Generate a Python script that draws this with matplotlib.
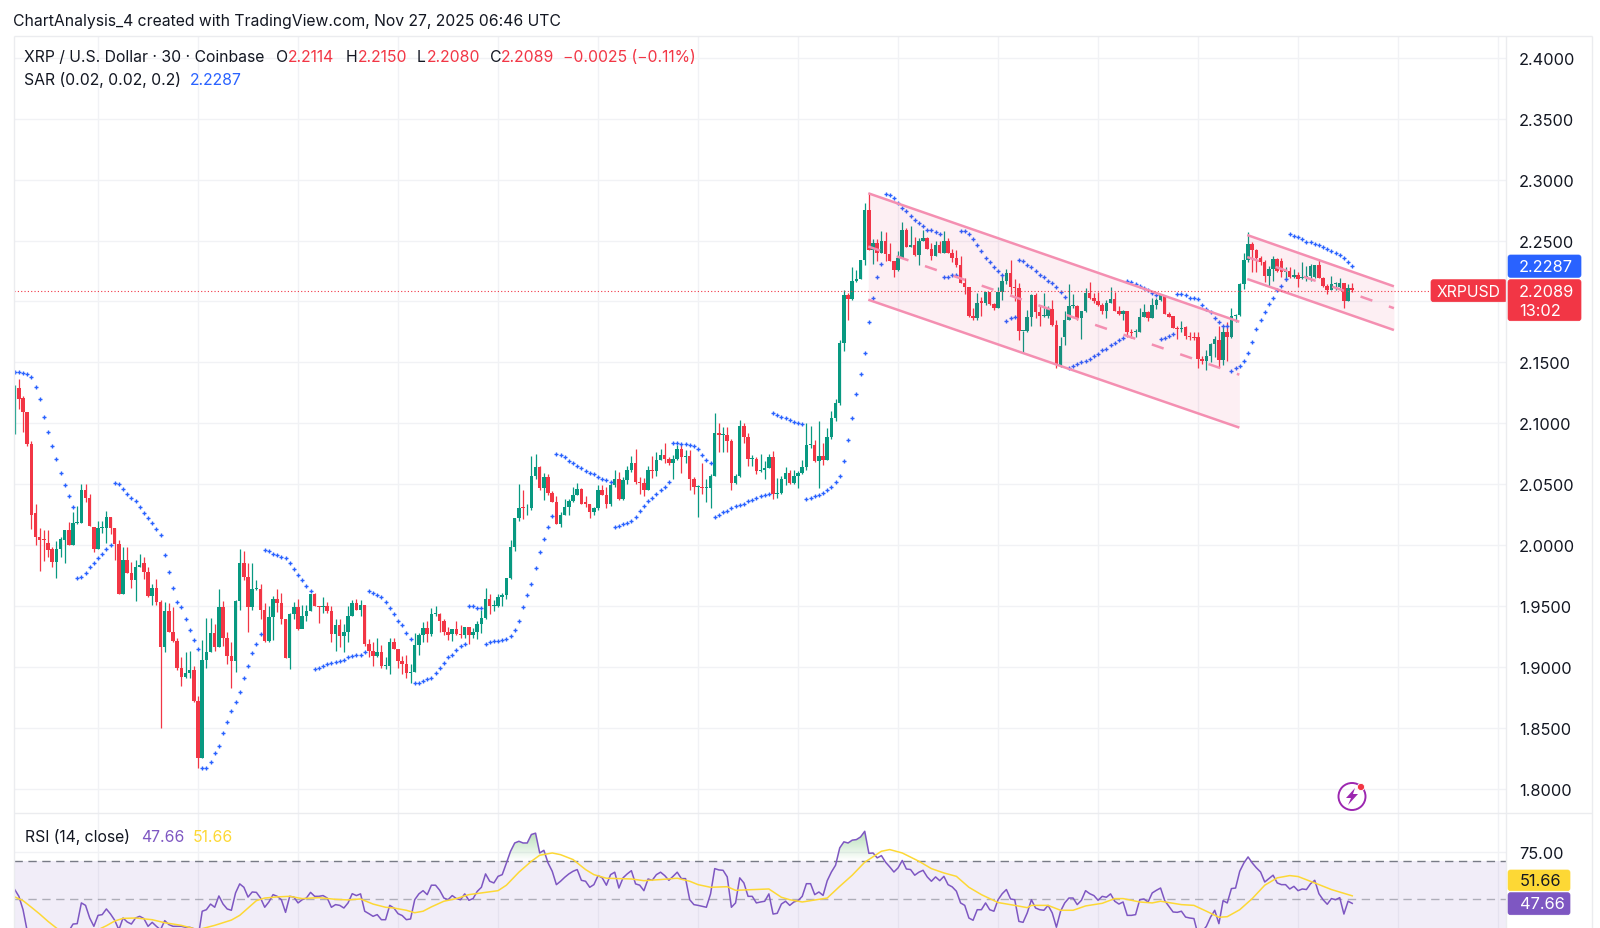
import numpy as np
import matplotlib
matplotlib.use('Agg')
import matplotlib.pyplot as plt
from matplotlib.patches import FancyBboxPatch, Circle, Polygon, PathPatch
from matplotlib.path import Path

plt.rcParams['font.family'] = ['Inter', 'DejaVu Sans']

# candle values in thousandths of a dollar
opens = [
    2120,2129,2121,2109,2083,2026,2007,2005,2002,1997, 1986,1997,2004,2012,2000,2018,2018,2045,2039,2015,
    1997,2014,2014,2023,2014,2001,1960,1988,1977,1971, 1982,1985,1978,1958,1965,1953,1916,1946,1929,1921,
    1899,1892,1895,1897,1872,1825,1906,1912,1928,1916, 1949,1924,1909,1905,1954,1985,1974,1949,1964,1964,
    1947,1921,1941,1956,1952,1939,1907,1943,1949,1931, 1942,1946,1960,1950,1949,1950,1946,1927,1934,1925,
    1929,1942,1952,1947,1951,1919,1913,1909,1912,1901, 1901,1920,1915,1905,1902,1895,1896,1918,1926,1932,
    1927,1943,1943,1938,1929,1927,1931,1927,1926,1933, 1926,1929,1935,1940,1956,1950,1950,1957,1959,1973,
    1998,2022,2031,2030,2030,2057,2064,2047,2056,2043, 2035,2017,2025,2031,2036,2041,2046,2035,2034,2027,
    2030,2045,2041,2034,2049,2054,2038,2053,2062,2067, 2052,2051,2045,2062,2061,2070,2074,2071,2067,2071,
    2079,2072,2073,2054,2048,2048,2047,2047,2057,2092, 2090,2090,2085,2051,2057,2098,2089,2071,2071,2061,
    2062,2063,2072,2042,2043,2054,2059,2051,2057,2059, 2064,2082,2082,2069,2073,2070,2089,2104,2117,2166,
    2205,2202,2217,2218,2234,2275,2242,2248,2240,2250, 2239,2233,2226,2236,2259,2245,2246,2238,2250,2252,
    2243,2237,2246,2240,2250,2240,2236,2230,2215,2212, 2188,2186,2200,2199,2208,2198,2195,2208,2217,2223,
    2212,2211,2176,2176,2187,2205,2191,2188,2188,2194, 2181,2148,2171,2185,2196,2196,2186,2192,2207,2203,
    2200,2197,2192,2199,2202,2192,2190,2192,2175,2175, 2175,2187,2191,2186,2197,2201,2205,2190,2188,2178,
    2177,2179,2172,2171,2171,2153,2151,2155,2165,2168, 2152,2175,2171,2188,2189,2214,2234,2247,2242,2236,
    2232,2221,2227,2235,2233,2224,2225,2220,2222,2219, 2219,2221,2220,2230,2219,2213,2209,2214,2212,2215,
    2200,2211]
closes = [
    2130,2120,2109,2083,2025,2007,2004,2004,1996,1986, 1997,2005,2012,2000,2018,2019,2045,2039,2016,1997,
    2014,2014,2023,2014,2001,1960,1988,1977,1971,1982, 1984,1978,1958,1965,1953,1916,1946,1929,1921,1899,
    1892,1895,1897,1872,1825,1906,1912,1928,1916,1949, 1924,1909,1905,1954,1985,1974,1949,1964,1964,1947,
    1921,1941,1956,1952,1939,1907,1943,1949,1931,1942, 1946,1960,1950,1949,1950,1946,1927,1934,1925,1929,
    1942,1952,1947,1951,1919,1913,1909,1912,1901,1901, 1920,1915,1905,1902,1895,1896,1918,1926,1932,1927,
    1943,1943,1938,1929,1926,1931,1927,1926,1933,1926, 1929,1935,1940,1956,1950,1950,1957,1959,1973,1998,
    2022,2030,2030,2030,2057,2064,2047,2056,2043,2035, 2017,2025,2031,2036,2041,2046,2034,2034,2027,2030,
    2045,2041,2034,2049,2054,2038,2053,2062,2067,2052, 2051,2045,2062,2061,2070,2074,2071,2067,2071,2079,
    2072,2073,2054,2048,2048,2047,2047,2057,2092,2090, 2090,2085,2051,2057,2098,2089,2071,2071,2061,2062,
    2063,2072,2042,2043,2054,2059,2051,2057,2059,2064, 2082,2082,2069,2073,2070,2089,2104,2117,2166,2205,
    2202,2217,2218,2234,2275,2242,2248,2240,2250,2239, 2233,2226,2236,2259,2245,2246,2238,2250,2252,2243,
    2237,2246,2240,2250,2240,2236,2230,2215,2212,2188, 2186,2199,2199,2208,2198,2195,2208,2217,2223,2212,
    2211,2176,2176,2187,2205,2191,2188,2188,2194,2181, 2148,2163,2185,2196,2196,2186,2192,2207,2203,2200,
    2197,2192,2199,2202,2192,2190,2192,2175,2174,2175, 2187,2191,2186,2197,2201,2205,2190,2187,2178,2177,
    2178,2172,2171,2170,2153,2151,2155,2165,2169,2152, 2175,2171,2188,2189,2214,2234,2247,2242,2236,2232,
    2221,2227,2235,2225,2224,2225,2220,2222,2218,2220, 2221,2229,2230,2219,2213,2209,2214,2214,2215,2200,
    2211,2209]
highs = [
    2131,2136,2122,2109,2085,2034,2014,2012,2012,1998, 2003,2007,2012,2019,2027,2032,2050,2050,2042,2015,
    2020,2020,2028,2023,2014,2004,1998,1998,1986,1988, 1993,1990,1982,1968,1972,1955,1953,1952,1949,1924,
    1908,1912,1913,1901,1876,1922,1940,1940,1935,1964, 1954,1929,1920,1955,1997,1995,1985,1985,1971,1968,
    1952,1950,1958,1964,1961,1939,1944,1953,1956,1951, 1951,1960,1961,1950,1957,1953,1950,1939,1939,1935,
    1950,1955,1956,1955,1951,1923,1920,1924,1918,1908, 1924,1924,1915,1909,1910,1902,1928,1928,1937,1938,
    1948,1950,1944,1939,1933,1931,1938,1934,1933,1933, 1932,1938,1947,1965,1960,1955,1960,1961,1973,2004,
    2022,2050,2045,2034,2073,2075,2065,2059,2058,2044, 2040,2027,2038,2038,2048,2051,2047,2040,2034,2031,
    2049,2049,2048,2051,2062,2060,2056,2065,2073,2079, 2056,2055,2065,2073,2076,2079,2084,2072,2074,2082,
    2083,2078,2078,2056,2049,2067,2054,2058,2108,2100, 2097,2097,2087,2058,2103,2100,2092,2074,2072,2075,
    2069,2075,2077,2055,2057,2064,2062,2062,2061,2070, 2100,2098,2086,2102,2084,2096,2110,2120,2168,2209,
    2207,2228,2226,2234,2281,2288,2251,2251,2258,2257, 2248,2233,2241,2265,2260,2262,2253,2252,2259,2253,
    2248,2250,2250,2258,2252,2243,2242,2237,2219,2212, 2195,2207,2204,2208,2208,2199,2212,2222,2227,2234,
    2218,2215,2176,2193,2206,2207,2197,2207,2196,2201, 2185,2171,2192,2214,2206,2197,2192,2211,2216,2207,
    2208,2199,2201,2212,2208,2196,2193,2192,2177,2177, 2195,2198,2192,2203,2203,2206,2205,2191,2188,2180,
    2184,2180,2175,2175,2175,2155,2160,2166,2172,2180, 2179,2183,2195,2190,2215,2240,2257,2249,2243,2237,
    2234,2229,2237,2236,2236,2228,2228,2227,2224,2232, 2229,2231,2230,2235,2220,2214,2221,2216,2219,2215,
    2214,2215]
lows = [
    2091,2112,2093,2081,2013,2000,1979,1987,1990,1982, 1973,1990,1985,2000,2000,2017,2018,2035,2016,1994,
    1997,2010,2002,2009,1988,1960,1960,1977,1965,1954, 1982,1972,1957,1951,1951,1850,1912,1929,1920,1897,
    1884,1891,1891,1871,1817,1825,1899,1912,1913,1916, 1917,1902,1883,1896,1947,1971,1929,1947,1963,1939,
    1920,1920,1922,1945,1935,1907,1898,1939,1930,1932, 1938,1946,1950,1936,1944,1944,1920,1913,1916,1912,
    1920,1942,1947,1942,1917,1908,1901,1908,1899,1898, 1894,1915,1899,1894,1891,1887,1896,1910,1920,1920,
    1925,1942,1929,1926,1922,1921,1926,1924,1924,1919, 1924,1923,1928,1939,1943,1946,1949,1950,1956,1972,
    1995,2020,2021,2025,2029,2054,2045,2037,2041,2035, 2017,2015,2025,2025,2035,2041,2034,2031,2022,2025,
    2029,2041,2030,2032,2048,2037,2037,2050,2060,2050, 2042,2040,2045,2055,2057,2070,2067,2066,2054,2070,
    2059,2067,2045,2042,2023,2042,2035,2030,2057,2076, 2076,2076,2045,2050,2056,2084,2065,2065,2058,2060,
    2054,2063,2038,2039,2042,2049,2050,2050,2047,2058, 2062,2080,2068,2047,2066,2070,2087,2102,2115,2159,
    2185,2201,2216,2218,2230,2242,2231,2233,2240,2233, 2233,2220,2225,2236,2245,2245,2237,2230,2250,2243,
    2234,2237,2240,2240,2240,2232,2228,2215,2206,2187, 2185,2185,2188,2197,2197,2193,2195,2201,2214,2206,
    2200,2168,2158,2175,2180,2186,2180,2187,2186,2180, 2145,2146,2164,2185,2195,2185,2169,2191,2202,2199,
    2196,2190,2186,2199,2192,2189,2185,2171,2170,2171, 2175,2187,2184,2186,2194,2200,2190,2187,2178,2169,
    2175,2169,2168,2168,2145,2149,2144,2150,2154,2146, 2148,2151,2170,2183,2188,2210,2232,2224,2224,2230,
    2216,2213,2217,2224,2220,2217,2219,2219,2212,2218, 2217,2217,2219,2219,2212,2206,2209,2209,2211,2195,
    2200,2208]
sar = [
    2142,2142,2141,2140,2138,2130,2120,2105,2093,2081,2071,2059,2049,2040,2031,
    1973,1974,1977,1982,1985,1989,1993,1997,2000,
    2051,2050,2046,2042,2039,2036,2031,2026,2022,2018,2013,2008,1992,1978,1965,1953,1949,1939,1930,1922,1915,
    1817,1817,1822,1829,1835,1846,1855,1864,1871,1879,1891,1901,1911,1919,1927,
    1996,1995,1993,1992,1990,1989,1985,1980,1975,1971,1966,1962,
    1898,1899,1901,1902,1903,1904,1905,1906,1908,1909,1910,1910,1912,
    1962,1961,1959,1957,1953,1948,1943,1938,1934,1928,1923,
    1887,1887,1888,1890,1891,1895,1899,1903,1908,1910,1914,1917,1919,
    1950,1950,1948,1948,
    1919,1920,1921,1921,1922,1923,1925,1930,1938,1949,1959,1968,1981,1994,2005,2015,2024,
    2075,2074,2072,2069,2067,2065,2063,2061,2059,2058,2056,2054,2053,2052,
    2015,2016,2017,2018,2020,2023,2028,2032,2036,2039,2042,2045,2048,2052,
    2084,2084,2083,2083,2082,2081,2079,2074,2070,2067,
    2023,2025,2027,2028,2030,2032,2033,2034,2036,2037,2039,2040,2041,2042,
    2108,2107,2105,2104,2103,2101,2100,2099,
    2038,2039,2040,2041,2043,2045,2048,2052,2057,2069,2086,2104,2124,2140,2158,2183,2203,2220,2231,
    2288,2287,2285,2281,2277,2274,2270,2267,2264,2262,2259,2259,2257,2255,
    2220,2220,2222,2222,
    2258,2258,2255,2251,2246,2241,2236,2232,2228,2225,2222,
    2184,2186,2187,
    2234,2233,2230,2228,2225,2222,2220,2217,2215,2212,2208,2204,
    2145,2147,2149,2150,2151,2153,2155,2157,2160,2161,2164,2166,2168,2170,
    2217,2216,2214,2213,2211,2209,2207,2205,
    2169,2170,2172,2173,
    2206,2206,2205,2203,2203,2202,2197,2194,2191,2186,2183,2180,2180,
    2143,2145,2147,2151,2158,2167,2177,2185,2191,2198,2203,2209,2213,2218,
    2255,2254,2253,2251,2249,2249,2247,2246,2245,2243,2241,2240,2238,2236,2232,2229]
rsi = [
    55,51.4,44.3,33,29,28,27,27,28,26, 30,32,34,33,36.7,36.9,47.9,46.6,39.9,35.5,
    41.3,41.7,44.7,42,38.7,33.7,39.9,37.8,36.7,39.9, 40.8,39.6,35.5,37.6,35.5,33.7,38.5,36.4,35.5,35.5,
    35.5,35,35,34.2,29.3,43.5,44.3,47.3,45.6,51.6, 47.3,44.7,44,53.2,58,56.2,51,53.7,53.5,50.5,
    45.6,48.4,52.3,51.4,49.6,42.9,51.4,51,47.9,49.6, 50.5,53.5,51.4,51.4,51.8,50.5,45.6,47,46.6,45.2,
    47.9,52.8,51.8,52.7,43.5,42.2,40.8,41.7,39,39, 46.6,45.2,42.2,41.2,39,39.4,49.6,52.7,54.4,52.3,
    57.3,57.3,54.6,50.5,49.6,51.8,50.2,49.6,52.7,49.3, 50.2,54,56.2,63.3,59.4,58.5,62,62.9,69,75.3,
    79.7,80.6,79.7,79.7,84.2,84.9,74.4,75.8,69.1,64.7, 57.6,59.4,61.5,63.3,64.7,65.6,59.9,59.4,56.2,57.6,
    62.4,61.2,57.3,62.9,64.2,55.8,61.2,63.3,65,58, 57.3,54.4,60.6,59.9,62.9,64.2,62.4,59.9,62,64.2,
    60.8,60.8,49.6,47,46.6,46.1,45.6,52.7,66.1,65.4, 65.2,61.7,45.6,47.9,61.2,58.5,51.4,51.4,47.9,48.4,
    48.8,52.7,42,42.4,47.3,48.8,46.6,48.4,49.1,51.4, 58.1,58.1,52.3,53.7,51.9,59.7,64.3,67.9,77.1,80.3,
    79.7,81.2,81.5,82.9,85.9,74.2,74.4,71.8,73,69.5, 67,64.3,66.5,70.4,65.9,65.6,62.6,64.2,65.2,61.7,
    59.4,61.7,59.7,62,57.6,56.4,54.1,47.9,46.6,39.9, 38.7,44.3,44.3,47.9,44.3,43.5,49.6,52.8,55,50,
    49.6,38.1,37.6,42.6,49.6,45.2,44.3,44,46.6,42.6, 35,43.5,47.9,50.5,50.5,47,49.3,54.4,52.8,51.8,
    49.3,51.4,50.9,52.7,48.8,47.3,48.4,41.3,41.3,41.7, 49.6,50,48.4,53.2,54.6,55.8,49.1,46.1,43.1,42.9,
    43.5,40.4,39.9,39.6,31,32.8,35.5,40.4,44,36.9, 49.1,47.9,55.5,55.8,64.7,69.1,72.3,69.1,66.5,64.3,
    59,60.8,62.6,58.5,57.6,57.6,55.3,56.7,54.4,55.3, 55,58.1,59.9,52.8,49.6,47.2,50.2,49.6,50.7,42,
    48.8,47.66]
rsi_ma_idx = [
    0,2,4,6,8,10,12,14,16,18,20,22,24,26,29,33,36,40,44,48,49,52,54,56,58,60,63,66,69,73,77,80,
    83,86,89,91,94,96,98,100,103,106,109,112,116,118,121,124,126,129,131,134,137,139,142,145,148,151,155,159,162,
    164,167,171,173,181,184,186,189,195,198,201,204,208,210,213,217,220,223,226,229,232,236,240,243,
    244,248,251,254,257,261,264,266,270,273,275,280,283,286,289,291,294,297,300,303,306,308,312,316,321]
rsi_ma = [
    51.1,49.1,45.6,42,38.1,34.6,31.1,28.4,28.4,31.4,33.7,35.8,38.3,39.7,39.9,39,37.4,36,33.7,36,36.7,38.8,41.3,45.2,49.1,50.5,51.1,51.4,50.2,50.7,49.8,49.5,
    50,47.3,45.6,45.2,44,42.7,43.5,45.8,48.8,50.2,52.3,53.2,54.4,57.3,64.2,70,73.2,74.4,73.5,70.9,65.6,62.9,61,60.8,60.6,59.7,60.3,61,59.4,
    57.6,56.2,56.5,54.6,55.3,50.9,49.6,48.4,50.5,56.7,62.6,69.5,75.3,76.2,74.4,70,66.1,63.8,62,56.2,52.3,48.1,46.6,45.4,
    46.6,46.6,44,44,46.3,47.7,50.2,50.2,48.4,47.9,48.8,47,46.6,43.5,40.3,40.6,44.3,50.2,57.3,61.2,62.4,61.9,58.5,55,51.66]

price_ticks = [1.80,1.85,1.90,1.95,2.00,2.05,2.10,2.15,2.20,2.25,2.30,2.35,2.40]
last_close = 2.2089

# channel drawings as (candle index, price) anchors
flag_x = [204.85, 293.9]
flag_top = [2.2888, 2.1833]
flag_bottom = [2.2014, 2.0964]
flag2_x = [295.8, 331.0]
flag2_top = [2.2545, 2.2124]
flag2_bottom = [2.2184, 2.1765]

UP = '#089981'
DOWN = '#f23645'
GRID = '#f1f2f5'
PINK = '#f48fb1'
PURPLE = '#7e57c2'
YELLOW = '#fdd835'
BLUE = '#2962ff'
TEXT = '#131722'

W, H = 1600, 929
fig = plt.figure(figsize=(W / 100, H / 100), dpi=100, facecolor='white')


def pane(left, top, right, bottom):
    return fig.add_axes([left / W, 1 - bottom / H, (right - left) / W, (bottom - top) / H])


xlim = (-0.17, 357.9)
vgrid = np.arange(20, 358, 24)

# main price pane
ax = pane(14, 37, 1506, 814)
o, h, l, c = [np.array(v) / 1000 for v in (opens, highs, lows, closes)]
x = np.arange(len(o))
up = c >= o
colors = np.where(up, UP, DOWN)
ax.vlines(x, l, h, colors=colors, lw=0.9, zorder=3)
ax.bar(x, np.maximum(np.abs(c - o), 0.0008), bottom=np.minimum(o, c), width=0.84,
       color=colors, linewidth=0, zorder=4)
ax.plot(x, np.array(sar) / 1000, ls='none', marker='+', ms=3.2, mew=1.0, color=BLUE, zorder=5)

for xs, top, bottom in [(flag_x, flag_top, flag_bottom), (flag2_x, flag2_top, flag2_bottom)]:
    mid = [(a + b) / 2 for a, b in zip(top, bottom)]
    ax.fill_between(xs, bottom, top, color='#e91e63', alpha=0.07, lw=0, zorder=6)
    ax.plot(xs, top, color=PINK, lw=1.8, zorder=6, solid_capstyle='butt')
    ax.plot(xs, bottom, color=PINK, lw=1.8, zorder=6, solid_capstyle='butt')
    ax.plot(xs, mid, color=PINK, lw=1.8, ls=(0, (5, 7)), zorder=6)

ax.axhline(last_close, color=DOWN, lw=0.8, ls=(0, (1, 2)), zorder=7)

ax.set_xlim(*xlim)
ax.set_ylim(1.7800, 2.4179)
ax.set_xticks(vgrid)
ax.set_yticks(price_ticks)
ax.set_yticklabels(['%.4f' % t if t != 2.20 else '' for t in price_ticks])
ax.yaxis.tick_right()
ax.tick_params(axis='y', length=0, pad=9.5, labelsize=11.8, labelcolor=TEXT)
ax.tick_params(axis='x', length=0, labelbottom=False)
ax.grid(True, color=GRID, lw=1)
ax.set_axisbelow(True)
for s in ax.spines.values():
    s.set_visible(False)

# RSI pane, clipped by the bottom of the picture
ax2 = pane(14, 814, 1506, 929)
rsi_arr = np.array(rsi)
ax2.axhspan(30, 70, color=PURPLE, alpha=0.1, lw=0, zorder=1)
ax2.axhline(70, color='#787b86', lw=1, ls=(0, (6, 4)), zorder=2)
ax2.axhline(50, color='#787b86', lw=1, ls=(0, (6, 4)), alpha=0.55, zorder=2)

poly = ax2.fill_between(x, 70, rsi_arr, where=rsi_arr > 70, interpolate=True, color='none', lw=0)
grad = np.zeros((64, 2, 4))
grad[..., 0] = 76 / 255
grad[..., 1] = 175 / 255
grad[..., 2] = 80 / 255
grad[..., 3] = np.linspace(0.42, 0, 64)[:, None]
im = ax2.imshow(grad, extent=(xlim[0], xlim[1], 70, 86), origin='upper', aspect='auto', zorder=3)
im.set_clip_path(PathPatch(Path.make_compound_path(*poly.get_paths()), transform=ax2.transData))

ax2.plot(x, rsi_arr, color=PURPLE, lw=1.1, zorder=5)
ax2.plot(rsi_ma_idx, rsi_ma, color=YELLOW, lw=1.1, zorder=6)
ax2.set_xlim(*xlim)
ax2.set_ylim(34.6, 95.6)
ax2.set_xticks(vgrid)
ax2.set_yticks([75])
ax2.set_yticklabels(['75.00'])
ax2.yaxis.tick_right()
ax2.tick_params(axis='y', length=0, pad=9.5, labelsize=11.8, labelcolor=TEXT)
ax2.tick_params(axis='x', length=0, labelbottom=False)
ax2.grid(True, color=GRID, lw=1)
ax2.set_axisbelow(True)
for s in ax2.spines.values():
    s.set_visible(False)

# overlay in picture pixels for the chrome, legends and price labels
ov = fig.add_axes([0, 0, 1, 1], zorder=20)
ov.set_xlim(0, W)
ov.set_ylim(H, 0)
ov.axis('off')
ov.patch.set_alpha(0)

for xs, ys in [((14, 1592), (37, 37)), ((14, 1592), (814, 814)), ((14, 14), (37, 929)),
               ((1506, 1506), (37, 929)), ((1592, 1592), (37, 929))]:
    ov.plot(xs, ys, color='#ebecef', lw=1, solid_capstyle='butt')


def label(x0, y, s, color=TEXT, size=11.35, **kw):
    return ov.text(x0, y, s, color=color, fontsize=size, va='center', ha='left', **kw)


label(13, 21, 'ChartAnalysis_4 created with TradingView.com, Nov 27, 2025 06:46 UTC')
label(24, 57.5, 'XRP / U.S. Dollar · 30 · Coinbase')
for xt, s, col in [(276, 'O', TEXT), (288, '2.2114', DOWN), (346, 'H', TEXT), (358, '2.2150', DOWN),
                   (417, 'L', TEXT), (427, '2.2080', DOWN), (490, 'C', TEXT), (501, '2.2089', DOWN),
                   (563, '\u22120.0025 (\u22120.11%)', DOWN)]:
    label(xt, 57.5, s, col)
label(24, 80, 'SAR (0.02, 0.02, 0.2)')
label(189.5, 80, '2.2287', BLUE)
label(25, 837.5, 'RSI (14, close)')
label(141.5, 837.5, '47.66', PURPLE)
label(192.5, 837.5, '51.66', YELLOW)


def box(x0, y0, x1, y1, color):
    ov.add_patch(FancyBboxPatch((x0 + 2, y0 + 2), x1 - x0 - 4, y1 - y0 - 4, facecolor=color, edgecolor=color,
                                lw=0.5, boxstyle='round,pad=2,rounding_size=2.5', mutation_aspect=1))


box(1508, 256, 1581, 278.3, BLUE)
box(1508, 280.7, 1581, 321.7, DOWN)
box(1431, 280.7, 1506.7, 302.7, DOWN)
box(1508, 871, 1570, 891.7, YELLOW)
box(1508, 893.7, 1570, 915.7, PURPLE)
label(1519, 267.3, '2.2287', 'white', 11.8)
label(1519, 292, '2.2089', 'white', 11.8)
label(1519, 311, '13:02', 'white', 11.8)
label(1437, 292, 'XRPUSD', 'white', 11.3)
label(1520, 881.5, '51.66', TEXT, 11.8)
label(1520, 904.5, '47.66', 'white', 11.8)

# lightning badge
ov.add_patch(Circle((1352, 797.5), 13.5, fill=False, edgecolor='#9c27b0', lw=1.4))
ov.add_patch(Polygon([(1355, 789), (1346, 799), (1351, 799), (1348, 806), (1358, 795), (1353, 795)],
                     closed=True, facecolor='#9c27b0', edgecolor='none'))
ov.add_patch(Circle((1361, 788), 3.6, facecolor=DOWN, edgecolor='white', lw=0.6))

fig.savefig('out.png', dpi=100, facecolor='white')
